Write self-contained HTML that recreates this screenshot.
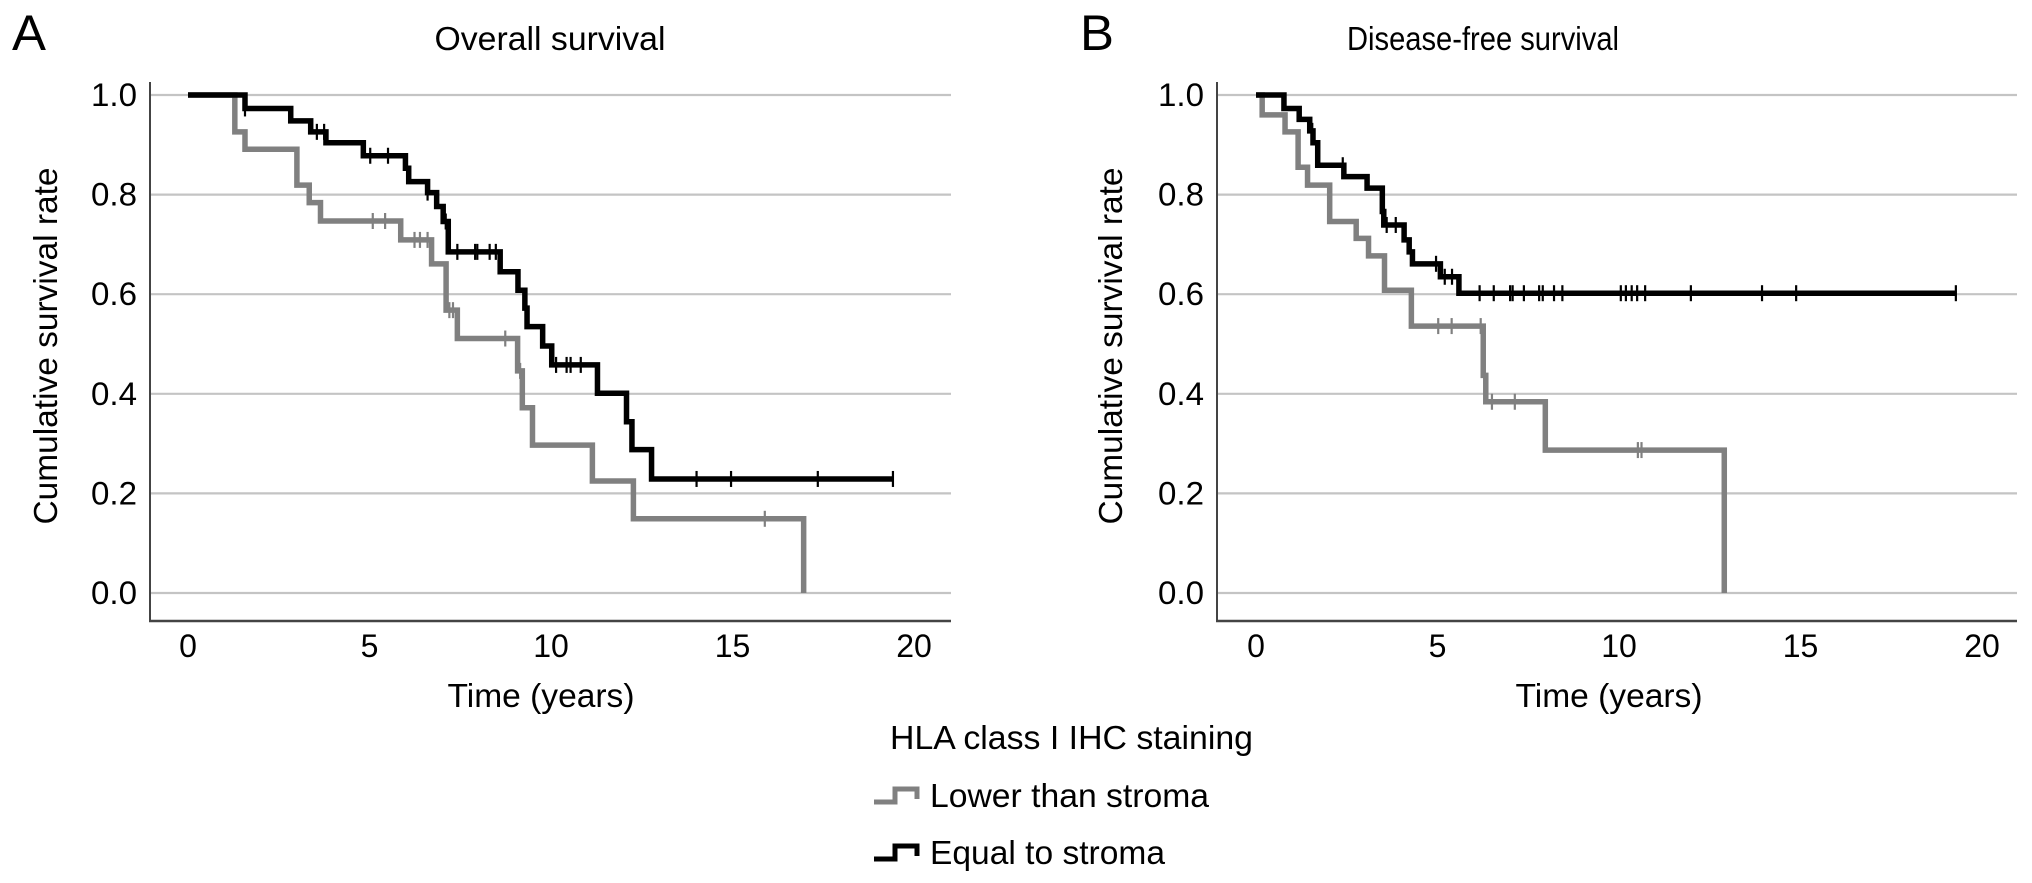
<!DOCTYPE html>
<html><head><meta charset="utf-8"><style>
html,body{margin:0;padding:0;background:#fff}
svg{display:block}
text{font-family:"Liberation Sans",sans-serif;fill:#000}
</style></head><body>
<svg id="fig" width="2032" height="883" viewBox="0 0 2032 883" xmlns="http://www.w3.org/2000/svg">
<text x="12" y="50" font-size="50" textLength="34" lengthAdjust="spacingAndGlyphs">A</text>
<text x="1080" y="50" font-size="50" textLength="34" lengthAdjust="spacingAndGlyphs">B</text>
<text x="550" y="50" font-size="33" text-anchor="middle" textLength="231" lengthAdjust="spacingAndGlyphs">Overall survival</text>
<text x="1483" y="50" font-size="33" text-anchor="middle" textLength="272" lengthAdjust="spacingAndGlyphs">Disease-free survival</text>
<text transform="translate(57,346) rotate(-90)" font-size="33" text-anchor="middle" textLength="357" lengthAdjust="spacingAndGlyphs">Cumulative survival rate</text>
<text transform="translate(1122,346) rotate(-90)" font-size="33" text-anchor="middle" textLength="357" lengthAdjust="spacingAndGlyphs">Cumulative survival rate</text>
<text x="541" y="707" font-size="33" text-anchor="middle" textLength="187" lengthAdjust="spacingAndGlyphs">Time (years)</text>
<text x="1609" y="707" font-size="33" text-anchor="middle" textLength="187" lengthAdjust="spacingAndGlyphs">Time (years)</text>
<g>
<text x="890" y="749" font-size="33" textLength="363" lengthAdjust="spacingAndGlyphs">HLA class I IHC staining</text>
<polyline points="874,802 895,802 895,789 917,789 917,799" fill="none" stroke="#808080" stroke-width="5"/>
<text x="930" y="807" font-size="33" textLength="279" lengthAdjust="spacingAndGlyphs">Lower than stroma</text>
<polyline points="874,859 895,859 895,846 917,846 917,856" fill="none" stroke="#000" stroke-width="5"/>
<text x="930" y="864" font-size="33" textLength="235" lengthAdjust="spacingAndGlyphs">Equal to stroma</text>
</g>
<g id="panelA"></g>
<g id="panelB"></g>
</svg>
<script>
const yTicks = [0, 0.2, 0.4, 0.6, 0.8, 1.0];
const yTickLabels = ["0.0", "0.2", "0.4", "0.6", "0.8", "1.0"];
const xTicks = [0, 5, 10, 15, 20];
const xTickLabels = ["0", "5", "10", "15", "20"];

const osEqualTimes = [0,1.57,2.83,3.38,3.80,4.83,5.99,6.08,6.60,6.85,7.03,7.17,8.60,9.09,9.28,9.34,9.77,10.02,11.28,12.08,12.23,12.77];
const osEqualValues = [1,0.973,0.948,0.926,0.904,0.878,0.853,0.826,0.804,0.776,0.746,0.685,0.645,0.608,0.572,0.535,0.496,0.458,0.401,0.344,0.288,0.229];
const osEqualEnd = 19.42;
const osEqualCensor = [1.57,3.55,3.75,5.02,5.51,6.60,7.10,7.42,7.91,7.97,8.31,8.48,10.14,10.43,10.54,10.82,14.01,14.96,17.35,19.42];

const osLowerTimes = [0,1.29,1.57,3.0,3.34,3.65,5.86,6.71,7.11,7.42,9.08,9.21,9.49,11.14,12.27,16.96];
const osLowerValues = [1,0.926,0.891,0.819,0.784,0.747,0.709,0.661,0.568,0.511,0.446,0.372,0.297,0.225,0.149,0];
const osLowerEnd = 16.96;
const osLowerCensor = [5.09,5.43,6.24,6.39,6.60,7.20,7.30,8.74,9.15,15.89];

const dfsEqualTimes = [0,0.77,1.19,1.48,1.57,1.70,2.42,3.06,3.48,3.52,4.08,4.22,4.31,5.08,5.59];
const dfsEqualValues = [1,0.973,0.951,0.928,0.904,0.859,0.836,0.813,0.766,0.739,0.709,0.685,0.661,0.635,0.602];
const dfsEqualEnd = 19.28;
const dfsEqualCensor = [1.55,2.39,3.50,3.60,3.85,4.96,5.20,5.40,6.16,6.55,7.00,7.07,7.38,7.80,7.90,8.21,8.44,10.05,10.19,10.35,10.50,10.72,11.98,13.94,14.88,19.28];

const dfsLowerTimes = [0,0.17,0.80,1.16,1.42,2.03,2.76,3.10,3.54,4.28,6.26,6.33,7.97,12.9];
const dfsLowerValues = [1,0.960,0.926,0.855,0.819,0.746,0.712,0.677,0.608,0.536,0.437,0.384,0.287,0];
const dfsLowerEnd = 12.9;
const dfsLowerCensor = [5.02,5.39,6.19,6.29,6.50,7.13,10.52,10.62];

const NS = "http://www.w3.org/2000/svg";
function mk(tag, attrs, parent){
  const e = document.createElementNS(NS, tag);
  for (const k in attrs) e.setAttribute(k, attrs[k]);
  parent.appendChild(e);
  return e;
}
function stepAt(times, vals, t){
  let v = vals[0];
  for (let i=0;i<times.length;i++){ if (times[i] <= t) v = vals[i]; }
  return v;
}
function drawPanel(g, x0, axisX, axisRight, series, key){
  const xs = t => x0 + t*36.3;
  const ys = v => 593 - v*498;
  yTicks.forEach((v,i)=>{
    const l = mk('line',{x1:axisX,x2:axisRight,y1:ys(v),y2:ys(v),stroke:'#c4c4c4','stroke-width':2.2},g);
    
    
    const t = mk('text',{x:axisX-13,y:ys(v)+11,'font-size':32,'text-anchor':'end',textLength:46,lengthAdjust:'spacingAndGlyphs'},g);
    t.textContent = yTickLabels[i];
    
    
  });
  xTicks.forEach((v,i)=>{
    const t = mk('text',{x:xs(v),y:657,'font-size':32,'text-anchor':'middle'},g);
    t.textContent = xTickLabels[i];
    
    
  });
  const ya = mk('line',{x1:axisX,x2:axisX,y1:82,y2:622,stroke:'#444','stroke-width':2},g);
  
  
  const xa = mk('line',{x1:axisX-1,x2:axisRight,y1:621,y2:621,stroke:'#444','stroke-width':2.5},g);
  
  
  series.forEach(s=>{
    let d = 'M'+xs(s.times[0])+','+ys(s.vals[0]);
    for (let i=1;i<s.times.length;i++){
      d += ' H'+xs(s.times[i])+' V'+ys(s.vals[i]);
    }
    d += ' H'+xs(s.end);
    const p = mk('path',{d:d,fill:'none',stroke:s.color,'stroke-width':5.5,'stroke-linejoin':'miter'},g);
    
    
    s.censor.forEach(t=>{
      const v = stepAt(s.times, s.vals, t);
      const c = mk('line',{x1:xs(t),x2:xs(t),y1:ys(v)-8,y2:ys(v)+8,stroke:s.color,'stroke-width':2.2},g);
      
      
    });
  });
}
drawPanel(document.getElementById('panelA'), 188, 150, 951, [
  {name:'lower', color:'#808080', times:osLowerTimes, vals:osLowerValues, end:osLowerEnd, censor:osLowerCensor},
  {name:'equal', color:'#000', times:osEqualTimes, vals:osEqualValues, end:osEqualEnd, censor:osEqualCensor}
], 'os');
drawPanel(document.getElementById('panelB'), 1256, 1217, 2017, [
  {name:'lower', color:'#808080', times:dfsLowerTimes, vals:dfsLowerValues, end:dfsLowerEnd, censor:dfsLowerCensor},
  {name:'equal', color:'#000', times:dfsEqualTimes, vals:dfsEqualValues, end:dfsEqualEnd, censor:dfsEqualCensor}
], 'dfs');
</script>
</body></html>
